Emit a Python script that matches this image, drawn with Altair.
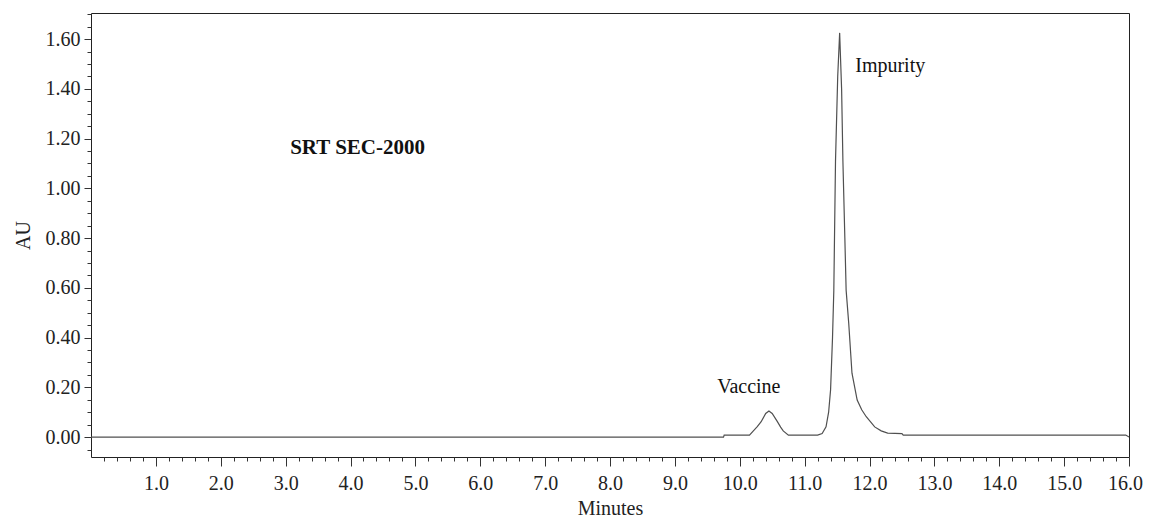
import altair as alt
import pandas as pd

# Chromatogram trace (minutes, AU)
time = [0.0, 9.75, 9.76, 10.15, 10.21, 10.27, 10.33, 10.40, 10.45, 10.50, 10.58, 10.63,
        10.67, 10.75, 11.20, 11.27, 11.33, 11.37, 11.40, 11.43, 11.45, 11.476, 11.51,
        11.54, 11.57, 11.59, 11.62, 11.64, 11.68, 11.73, 11.81, 11.88, 11.95, 12.08,
        12.18, 12.28, 12.50, 12.52, 15.95, 16.0]
au = [0.0, 0.0, 0.008, 0.008, 0.025, 0.042, 0.062, 0.095, 0.105, 0.095, 0.062, 0.040,
      0.025, 0.008, 0.008, 0.014, 0.041, 0.10, 0.19, 0.40, 0.59, 1.11, 1.45,
      1.625, 1.40, 1.11, 0.80, 0.59, 0.457, 0.257, 0.149, 0.11, 0.082, 0.041,
      0.025, 0.016, 0.014, 0.008, 0.008, 0.0]

x_ticks = [round(0.2 * i, 1) for i in range(1, 81)]
y_ticks = [round(0.05 * i, 2) for i in range(-1, 35)]

ann_text = ["SRT SEC-2000", "Vaccine", "Impurity"]
ann_t = [3.07, 10.14, 11.78]
ann_au = [1.14, 0.176, 1.466]

FONT = "Liberation Serif"

df = pd.DataFrame({"t": time, "au": au})
ann = pd.DataFrame({"t": ann_t, "au": ann_au, "label": ann_text})

xs = alt.Scale(domain=[0, 16], nice=False, zero=False)
ys = alt.Scale(domain=[-0.08, 1.705], nice=False, zero=False)

x_axis = alt.Axis(
    title="Minutes", values=x_ticks,
    labelExpr="abs(datum.value - round(datum.value)) < 0.001 ? format(datum.value, '.1f') : ''",
    tickSize=alt.condition("abs(datum.value - round(datum.value)) < 0.001", alt.value(9), alt.value(4)),
    labelOffset=alt.condition("datum.value > 15.9", alt.value(-4), alt.value(0)),
    labelPadding=7, titleY=57, titleBaseline="alphabetic", domain=False, grid=False, labelFlush=False,
)
y_axis = alt.Axis(
    title="AU", values=y_ticks,
    labelExpr="abs(datum.value * 5 - round(datum.value * 5)) < 0.001 ? format(datum.value, '.2f') : ''",
    tickSize=alt.condition("abs(datum.value * 5 - round(datum.value * 5)) < 0.001", alt.value(7), alt.value(4)),
    labelPadding=4, titlePadding=12, domain=False, grid=False, labelFlush=False,
)

X = alt.X("t:Q", scale=xs, axis=x_axis)
Y = alt.Y("au:Q", scale=ys, axis=y_axis)

line = alt.Chart(df).mark_line(color="#505050", strokeWidth=1.2).encode(x=X, y=Y)

title_txt = alt.Chart(ann.iloc[[0]]).mark_text(
    font=FONT, fontSize=21, fontWeight="bold", align="left", baseline="alphabetic", color="#111"
).encode(x=X, y=Y, text="label:N")
vac_txt = alt.Chart(ann.iloc[[1]]).mark_text(
    font=FONT, fontSize=20, align="center", baseline="alphabetic", color="#111"
).encode(x=X, y=Y, text="label:N")
imp_txt = alt.Chart(ann.iloc[[2]]).mark_text(
    font=FONT, fontSize=20, align="left", baseline="alphabetic", color="#111"
).encode(x=X, y=Y, text="label:N")

chart = alt.layer(line, title_txt, vac_txt, imp_txt).properties(
    width=1038, height=444,
    padding={"left": 83, "top": 5, "right": 14, "bottom": 60},
    autosize=alt.AutoSizeParams(type="none"),
).configure_view(
    stroke="#222", strokeWidth=1
).configure_axis(
    labelFont=FONT, titleFont=FONT, labelFontSize=20, titleFontSize=20,
    labelColor="#222", titleColor="#222", titleFontWeight="normal",
    tickColor="#333", tickWidth=1
)

chart.save("out.html", embed_options={"renderer": "svg", "actions": False})
